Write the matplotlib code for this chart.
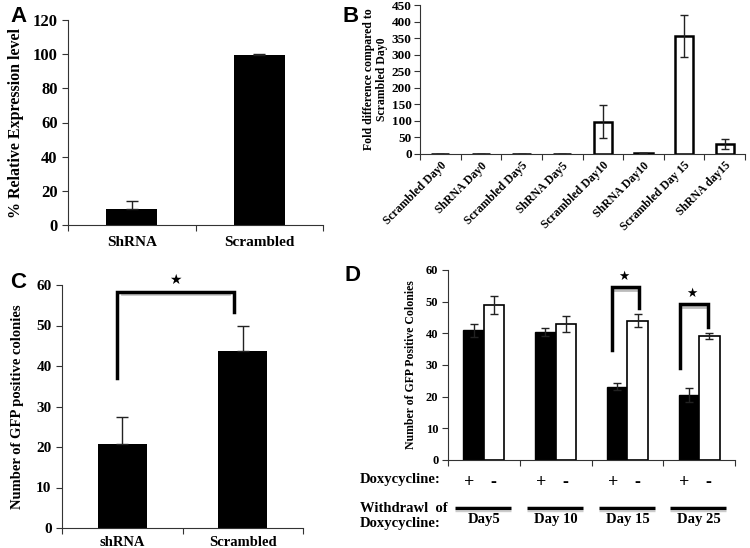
import numpy as np
import matplotlib.pyplot as plt

# Panel A
a_labels = ["ShRNA", "Scrambled"]
a_values = [9.5, 99.5]
a_errors = [4.5, 0.4]

# Panel B
b_labels = ["Scrambled Day0", "ShRNA Day0", "Scrambled Day5", "ShRNA Day5",
            "Scrambled Day10", "ShRNA Day10", "Scrambled Day 15", "ShRNA day15"]
b_values = [1, 1, 1, 1, 97, 3, 357, 30]
b_errors = [0, 0, 0, 0, 50, 0, 64, 14]

# Panel C
c_labels = ["shRNA", "Scrambled"]
c_values = [20.7, 43.8]
c_errors = [6.8, 6.0]

# Panel D
d_days = ["Day5", "Day 10", "Day 15", "Day 25"]
d_plus = [41.0, 40.5, 23.2, 20.6]
d_plus_err = [2.0, 1.2, 1.0, 2.2]
d_minus = [49.0, 43.0, 44.0, 39.2]
d_minus_err = [2.8, 2.5, 2.0, 1.0]

plt.rcParams['font.family'] = 'Liberation Serif'
plt.rcParams['font.weight'] = 'bold'

W, H = 750, 548
fig = plt.figure(figsize=(7.5, 5.48), dpi=100)


def add_ax(x0, y0, x1, y1):
    return fig.add_axes([x0 / W, 1 - y1 / H, (x1 - x0) / W, (y1 - y0) / H])


def style(ax, n, tsize, ylim, step):
    for s in ['top', 'right']:
        ax.spines[s].set_visible(False)
    ax.spines['left'].set_color('#333333')
    ax.spines['bottom'].set_color('#333333')
    ax.set_xlim(-0.5, n - 0.5)
    ax.set_ylim(*ylim)
    ax.set_yticks(np.arange(ylim[0], ylim[1] + 0.1, step))
    ax.set_xticks(np.arange(-0.5, n, 1.0))
    ax.set_xticklabels([])
    ax.tick_params(axis='x', which='major', direction='out', length=4, color='#333333')
    ax.tick_params(axis='y', direction='out', length=4, color='#333333', labelsize=tsize)
    for t in ax.get_yticklabels():
        t.set_fontweight('bold')


def letter(x, y, s):
    fig.text(x / W, 1 - y / H, s, fontsize=16, fontweight='bold',
             family='Liberation Sans', ha='left', va='top')


# ---- A ----
ax = add_ax(68, 20, 323, 225)
style(ax, 2, 12, (0, 120), 20)
ax.bar(range(2), a_values, width=0.4, color='black',
       yerr=[[0, 0], a_errors], capsize=4, error_kw=dict(lw=1, ecolor='#222222'))
ax.set_xticks(range(2), minor=True)
ax.set_xticklabels(a_labels, minor=True, fontsize=11, fontweight='bold')
ax.tick_params(axis='x', which='minor', length=0, pad=8)
ax.set_ylabel("% Relative Expression level", fontsize=11.5, fontweight='bold', labelpad=6)
letter(10, 6, "A")

# ---- B ----
ax = add_ax(420, 5, 745, 154)
style(ax, 8, 9.5, (0, 450), 50)
ax.bar(range(8), b_values, width=0.45, color='white', edgecolor='black', linewidth=1.8,
       yerr=b_errors, capsize=3, error_kw=dict(lw=1, ecolor='#222222'))
ax.set_xticks(range(8), minor=True)
ax.set_xticklabels(b_labels, minor=True, fontsize=8.5, fontweight='bold',
                   rotation=45, ha='right', rotation_mode='anchor')
ax.tick_params(axis='x', which='minor', length=0, pad=4)
ax.tick_params(axis='y', pad=2)
ax.set_ylabel("Fold difference compared to\nScrambled Day0", fontsize=8.5,
              fontweight='bold', labelpad=3, linespacing=1.1)
letter(343, 6, "B")

# ---- C ----
ax = add_ax(62, 285, 303, 528)
style(ax, 2, 11, (0, 60), 10)
ax.bar(range(2), c_values, width=0.41, color='black',
       yerr=[[0, 0], c_errors], capsize=4, error_kw=dict(lw=1, ecolor='#222222'))
ax.set_xticks(range(2), minor=True)
ax.set_xticklabels(c_labels, minor=True, fontsize=10.5, fontweight='bold')
ax.tick_params(axis='x', which='minor', length=0, pad=6)
ax.set_ylabel("Number of GFP positive colonies", fontsize=10.5, fontweight='bold', labelpad=9)
bx = [-0.04, -0.04, 0.93, 0.93]
by = [37, 58.3, 58.3, 53.3]
ax.plot([0.0, 0.89], [57.7, 57.7], color='#c8c8c8', lw=2, clip_on=False, zorder=2)
ax.plot(bx, by, color='black', lw=2.5, clip_on=False, zorder=3,
        solid_joinstyle='miter')
ax.text(0.44, 59.5, "\u2605", fontsize=10, ha='center', va='bottom',
        family='DejaVu Sans', clip_on=False)
letter(10, 272, "C")

# ---- D ----
ax = add_ax(448, 270, 735, 460)
style(ax, 4, 9, (0, 60), 10)
x = np.arange(4)
bw = 0.285
ax.bar(x - bw / 2, d_plus, width=bw, color='black', edgecolor='black', linewidth=1,
       yerr=d_plus_err, capsize=3, error_kw=dict(lw=1, ecolor='#222222'))
ax.bar(x + bw / 2, d_minus, width=bw, color='white', edgecolor='black', linewidth=1.2,
       yerr=d_minus_err, capsize=3, error_kw=dict(lw=1, ecolor='#222222'))
ax.set_ylabel("Number of GFP Positive Colonies", fontsize=8.5, fontweight='bold', labelpad=6)
ax.tick_params(axis='y', pad=3)

# significance brackets: (left x, right x, left bottom, top, right bottom, star y)
for lx, rx, lo, top, right, star in [(1.78, 2.16, 34.8, 54.7, 48.0, 55.8),
                                     (2.73, 3.12, 29.0, 49.3, 42.0, 50.5)]:
    ax.plot([lx + 0.04, rx - 0.04], [top - 0.9, top - 0.9], color='#bbbbbb', lw=2, zorder=2)
    ax.plot([lx, lx, rx, rx], [lo, top, top, right], color='black', lw=2.5, zorder=3,
            solid_joinstyle='miter', clip_on=False)
    ax.text((lx + rx) / 2 - 0.02, star, "\u2605", fontsize=9, ha='center', va='bottom',
            family='DejaVu Sans', clip_on=False)

trans = ax.get_xaxis_transform()
for i in range(4):
    ax.text(i - bw / 2 - 0.06, -0.12, "+", transform=trans, ha='center', va='center',
            fontsize=13, fontweight='bold')
    ax.text(i + bw / 2 - 0.01, -0.12, "-", transform=trans, ha='center', va='center',
            fontsize=13, fontweight='bold')
    ax.plot([i - 0.4, i + 0.38], [-0.255, -0.255], transform=trans, color='black',
            lw=2.5, clip_on=False, solid_capstyle='butt')
    ax.plot([i - 0.4, i + 0.38], [-0.268, -0.268], transform=trans, color='#cccccc',
            lw=1, clip_on=False, solid_capstyle='butt')
    ax.text(i, -0.28, d_days[i], transform=trans, ha='center', va='top',
            fontsize=10.5, fontweight='bold')

fig.text(360 / W, 1 - 480 / H, "Doxycycline:", fontsize=10.5, fontweight='bold',
         ha='left', va='center')
fig.text(360 / W, 1 - 516 / H, "Withdrawl  of\nDoxycycline:", fontsize=10.5,
         fontweight='bold', ha='left', va='center', linespacing=1.3)
letter(345, 265, "D")

fig.savefig("out.png", dpi=100)
